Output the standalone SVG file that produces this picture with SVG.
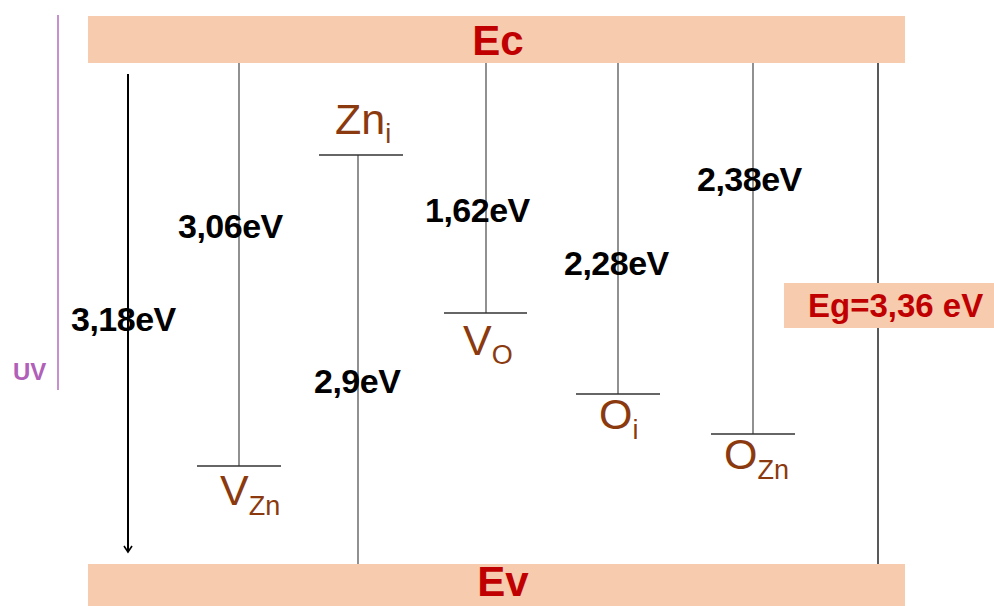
<svg xmlns="http://www.w3.org/2000/svg" width="994" height="606" viewBox="0 0 994 606">
  <style>
    .band { fill: #f7cbad; }
    .bandtxt { font-family: "Liberation Sans", Arial, sans-serif; font-weight: bold; font-size: 42px; fill: #c00000; }
    .egtxt { font-family: "Liberation Sans", Arial, sans-serif; font-weight: bold; font-size: 33px; fill: #c00000; }
    .ev { font-family: "Liberation Sans", Arial, sans-serif; font-weight: bold; font-size: 34px; fill: #000; letter-spacing: -0.5px; }
    .lbl { font-family: "Liberation Sans", Arial, sans-serif; font-size: 43px; fill: #8b3a0f; }
    .sub { font-size: 27px; }
    .lvl { stroke: #333; stroke-width: 1.3; fill: none; }
    .vline { stroke: #555; stroke-width: 1.3; fill: none; }
    .uv { font-family: "Liberation Sans", Arial, sans-serif; font-weight: bold; font-size: 24px; fill: #b060b8; }
  </style>
  <defs>
    <marker id="ah" markerWidth="10" markerHeight="10" refX="8" refY="5" orient="auto" markerUnits="userSpaceOnUse" viewBox="0 0 10 10">
      <path d="M2,1 L8,5 L2,9" fill="none" stroke="#000" stroke-width="1.6"/>
    </marker>
  </defs>
  <rect width="994" height="606" fill="#fff"/>

  <g id="uv">
    <line x1="58" y1="15" x2="58" y2="390" stroke="#c890d0" stroke-width="2"/>
    <text class="uv" x="13" y="380">UV</text>
  </g>

  <g id="connectors">
    <line x1="128" y1="74" x2="128" y2="552" stroke="#000" stroke-width="2" marker-end="url(#ah)"/>
    <line class="vline" x1="239" y1="63" x2="239" y2="466"/>
    <line class="vline" x1="358" y1="155" x2="358" y2="564"/>
    <line class="vline" x1="486" y1="63" x2="486" y2="313"/>
    <line class="vline" x1="618" y1="63" x2="618" y2="394"/>
    <line class="vline" x1="753" y1="63" x2="753" y2="434"/>
    <line x1="878" y1="63" x2="878" y2="564" stroke="#000" stroke-width="1.3"/>
  </g>

  <g id="Ec">
    <rect class="band" x="88" y="16" width="817" height="47"/>
    <text class="bandtxt" x="498" y="55" text-anchor="middle">Ec</text>
  </g>
  <g id="Ev">
    <rect class="band" x="88" y="564" width="817" height="42"/>
    <text class="bandtxt" x="503" y="596" text-anchor="middle">Ev</text>
  </g>
  <g id="Eg">
    <rect class="band" x="784" y="283" width="210" height="45"/>
    <text class="egtxt" x="808" y="317">Eg=3,36 eV</text>
  </g>

  <g id="VZn">
    <line class="lvl" x1="197" y1="466" x2="281" y2="466"/>
    <text class="lbl" x="220" y="505">V<tspan class="sub" dy="10">Zn</tspan></text>
  </g>
  <g id="Zni">
    <line class="lvl" x1="319" y1="155" x2="403" y2="155"/>
    <text class="lbl" x="335" y="134">Zn<tspan class="sub" dy="9">i</tspan></text>
  </g>
  <g id="VO">
    <line class="lvl" x1="444" y1="313" x2="527" y2="313"/>
    <text class="lbl" x="463" y="355">V<tspan class="sub" dy="9">O</tspan></text>
  </g>
  <g id="Oi">
    <line class="lvl" x1="576" y1="394" x2="660" y2="394"/>
    <text class="lbl" x="599" y="429">O<tspan class="sub" dy="10">i</tspan></text>
  </g>
  <g id="OZn">
    <line class="lvl" x1="711" y1="434" x2="795" y2="434"/>
    <text class="lbl" x="724" y="469">O<tspan class="sub" dy="10">Zn</tspan></text>
  </g>

  <g id="energies">
    <text class="ev" x="71" y="331">3,18eV</text>
    <text class="ev" x="178" y="238">3,06eV</text>
    <text class="ev" x="314" y="393">2,9eV</text>
    <text class="ev" x="425" y="222">1,62eV</text>
    <text class="ev" x="564" y="275">2,28eV</text>
    <text class="ev" x="697" y="191">2,38eV</text>
  </g>
</svg>
